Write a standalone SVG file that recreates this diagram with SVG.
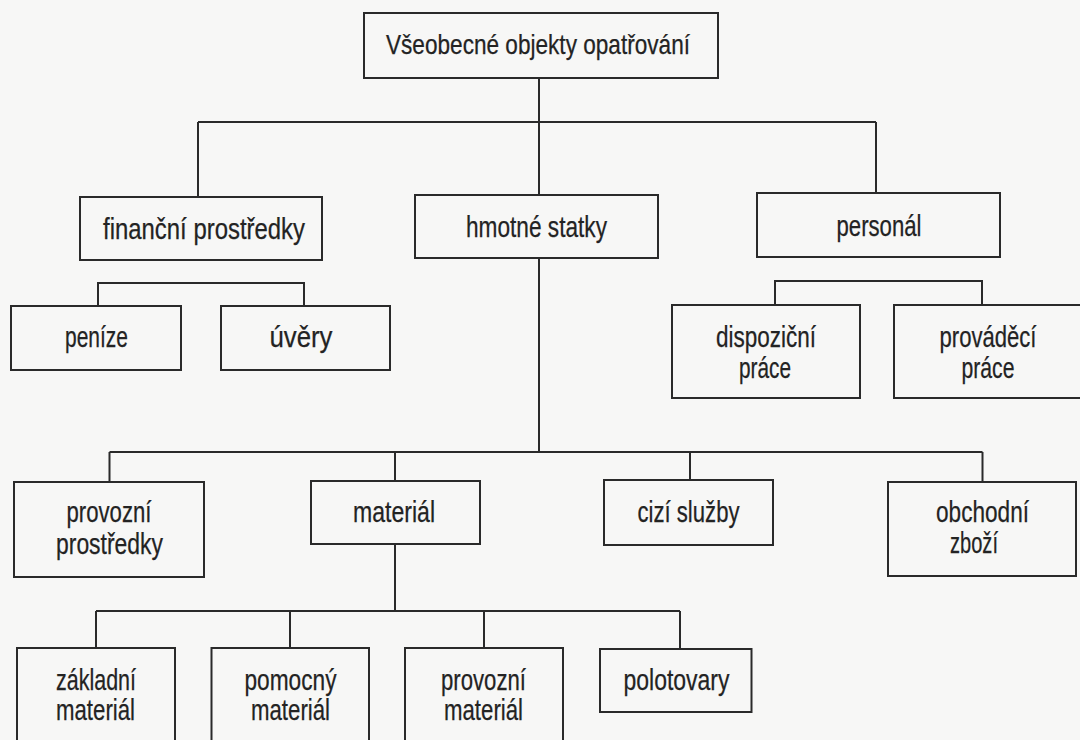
<svg xmlns="http://www.w3.org/2000/svg" width="1080" height="740" viewBox="0 0 1080 740">
<style>
.bg{fill:#f7f7f6}
.box{fill:none;stroke:#2a2a2a;stroke-width:2}
.ln{fill:none;stroke:#2a2a2a;stroke-width:2}
text{font-family:"Liberation Sans Narrow","Liberation Sans",Arial,sans-serif;font-size:30px;fill:#232323;text-anchor:middle;stroke:#232323;stroke-width:0.25}
text.r{font-size:28px}
</style>
<rect class="bg" x="0" y="0" width="1080" height="740"/>
<g id="connectors">
<path class="ln" d="M539 78V122M198 122H876M198 122V197M539 122V195M876 122V193"/>
<path class="ln" d="M98 306V283H304V306"/>
<path class="ln" d="M775 305V281H982V305"/>
<path class="ln" d="M539 258V452M109.5 452H982.5M109.5 452V482M395 452V481M690 452V480M982.5 452V482"/>
<path class="ln" d="M395 544V611M96 611H680M96 611V648M290 611V648M484 611V648M680 611V649"/>
</g>
<g id="root"><rect class="box" x="364" y="13" width="354" height="65"/><text class="r" x="538" y="54" textLength="304" lengthAdjust="spacingAndGlyphs">Všeobecné objekty opatřování</text></g>
<g id="financni"><rect class="box" x="80" y="197" width="242" height="63"/><text x="204" y="239" textLength="202" lengthAdjust="spacingAndGlyphs">finanční prostředky</text></g>
<g id="hmotne"><rect class="box" x="415" y="195" width="243" height="63"/><text x="536.5" y="237" textLength="141" lengthAdjust="spacingAndGlyphs">hmotné statky</text></g>
<g id="personal"><rect class="box" x="757" y="193" width="243" height="64"/><text x="879" y="236" textLength="85" lengthAdjust="spacingAndGlyphs">personál</text></g>
<g id="penize"><rect class="box" x="11" y="306" width="170" height="64"/><text x="96.5" y="347" textLength="63" lengthAdjust="spacingAndGlyphs">peníze</text></g>
<g id="uvery"><rect class="box" x="221" y="306" width="169" height="64"/><text x="301" y="347" textLength="63" lengthAdjust="spacingAndGlyphs">úvěry</text></g>
<g id="dispozicni"><rect class="box" x="672" y="305" width="188" height="93"/><text x="766" y="347" textLength="100" lengthAdjust="spacingAndGlyphs">dispoziční</text><text x="765" y="378" textLength="52" lengthAdjust="spacingAndGlyphs">práce</text></g>
<g id="provadeci"><rect class="box" x="894" y="305" width="200" height="93"/><text x="988" y="347" textLength="97" lengthAdjust="spacingAndGlyphs">prováděcí</text><text x="988" y="378" textLength="53" lengthAdjust="spacingAndGlyphs">práce</text></g>
<g id="provozni-prostredky"><rect class="box" x="14" y="482" width="190" height="95"/><text x="109" y="522" textLength="85" lengthAdjust="spacingAndGlyphs">provozní</text><text x="109.5" y="554" textLength="107" lengthAdjust="spacingAndGlyphs">prostředky</text></g>
<g id="material"><rect class="box" x="311" y="481" width="169" height="63"/><text x="394" y="522" textLength="82" lengthAdjust="spacingAndGlyphs">materiál</text></g>
<g id="cizi-sluzby"><rect class="box" x="604" y="480" width="169" height="65"/><text x="688.5" y="522" textLength="102" lengthAdjust="spacingAndGlyphs">cizí služby</text></g>
<g id="obchodni-zbozi"><rect class="box" x="888" y="482" width="188" height="94"/><text x="982.5" y="522" textLength="93" lengthAdjust="spacingAndGlyphs">obchodní</text><text x="974" y="553" textLength="48" lengthAdjust="spacingAndGlyphs">zboží</text></g>
<g id="zakladni-material"><rect class="box" x="17" y="648" width="158" height="100"/><text x="96" y="690" textLength="80" lengthAdjust="spacingAndGlyphs">základní</text><text x="95.5" y="720" textLength="79" lengthAdjust="spacingAndGlyphs">materiál</text></g>
<g id="pomocny-material"><rect class="box" x="211.5" y="648" width="157.5" height="100"/><text x="290.5" y="690" textLength="92" lengthAdjust="spacingAndGlyphs">pomocný</text><text x="290.5" y="720" textLength="79" lengthAdjust="spacingAndGlyphs">materiál</text></g>
<g id="provozni-material"><rect class="box" x="405" y="648" width="158" height="100"/><text x="483.5" y="690" textLength="85" lengthAdjust="spacingAndGlyphs">provozní</text><text x="483.5" y="720" textLength="79" lengthAdjust="spacingAndGlyphs">materiál</text></g>
<g id="polotovary"><rect class="box" x="600" y="649" width="151.5" height="63"/><text x="676.5" y="690" textLength="106" lengthAdjust="spacingAndGlyphs">polotovary</text></g>
</svg>
